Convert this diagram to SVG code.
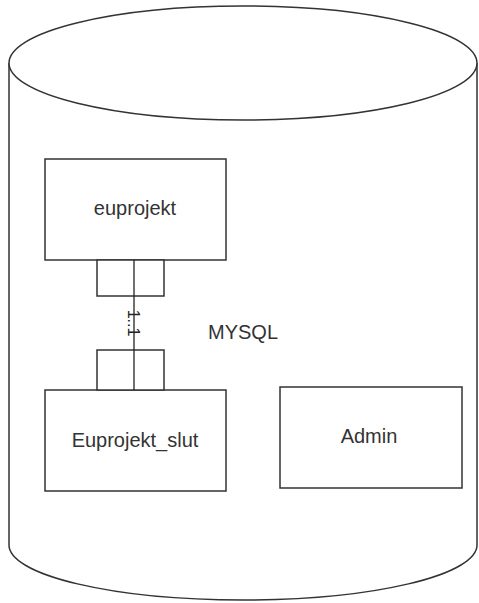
<svg xmlns="http://www.w3.org/2000/svg" width="479" height="603" viewBox="0 0 479 603">
<style>
.s{fill:#fff;stroke:#333;stroke-width:1.5}
.l{fill:none;stroke:#222;stroke-width:1.3}
.t{font-family:"Liberation Sans",Arial,sans-serif;font-size:20px;fill:#333;text-anchor:middle}
</style>
<rect width="479" height="603" fill="#fff"/>
<g id="mysql">
<path class="s" d="M9,63 L9,545 A234,55 0 0 0 477,545 L477,63"/>
<ellipse class="s" cx="243" cy="63" rx="234" ry="57"/>
<text class="t" x="243" y="339">MYSQL</text>
</g>
<g id="euprojekt">
<rect class="s" x="45" y="159" width="181" height="101"/>
<text class="t" x="135" y="215">euprojekt</text>
<rect class="s" x="97" y="260" width="67" height="36"/>
</g>
<g id="euprojekt_slut">
<rect class="s" x="45" y="390" width="181" height="101"/>
<text class="t" x="135" y="447">Euprojekt_slut</text>
<rect class="s" x="97" y="350" width="67" height="40"/>
</g>
<g id="admin">
<rect class="s" x="280" y="387" width="182" height="101"/>
<text class="t" x="369" y="443">Admin</text>
</g>
<g id="connectors">
<line class="l" x1="134" y1="260" x2="134" y2="390"/>
<text font-family="Liberation Sans,Arial,sans-serif" font-size="16" fill="#222" text-anchor="middle" transform="translate(128,323) rotate(90)">1..1</text>
</g>
</svg>
